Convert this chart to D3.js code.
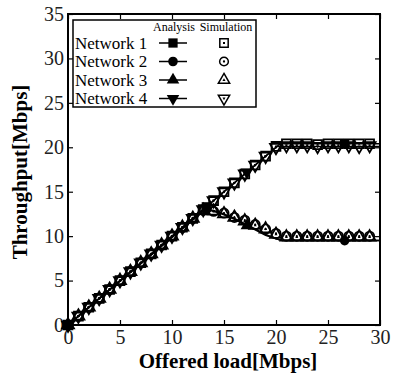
<!DOCTYPE html>
<html>
<head>
<meta charset="utf-8">
<script src="https://cdn.jsdelivr.net/npm/d3@7"></script>
<style>
  body { margin: 0; background: #fff; }
</style>
</head>
<body>
<div id="chart"></div>
<script>
// offered load values of the simulation points
let load = [0, 1, 2, 3, 4, 5, 6, 7, 8, 9, 10, 11, 12, 13, 14, 15, 16, 17, 18, 19, 20, 21, 22, 23, 24, 25, 26, 27, 28, 29];

// simulation throughput
let sim1 = [0, 1, 2, 3, 4, 5, 6, 7, 8, 9, 10, 11, 12, 13, 14, 15, 16, 17, 18, 19, 20.1, 20.4, 20.4, 20.4, 20.3, 20.4, 20.4, 20.4, 20.4, 20.4];
let sim2 = [0, 1, 2, 3, 4, 5, 6, 7, 8, 9, 10, 11, 12, 12.9, 12.8, 12.6, 12.1, 11.8, 11.3, 10.8, 10.3, 10.0, 10.0, 10.0, 10.0, 10.0, 10.0, 10.0, 10.0, 10.0];
let sim3 = [0, 1, 2, 3, 4, 5, 6, 7, 8, 9, 10, 11, 12, 12.9, 12.8, 12.5, 12.1, 11.7, 11.2, 10.8, 10.2, 9.9, 9.9, 9.9, 9.9, 9.9, 9.9, 9.9, 9.9, 9.9];
let sim4 = [0, 1, 2, 3, 4, 5, 6, 7, 8, 9, 10, 11, 12, 13, 14, 15, 16, 17, 18, 19, 20.0, 20.2, 20.2, 20.2, 20.1, 20.2, 20.2, 20.2, 20.1, 20.2];

// analysis curves (x, y)
let ana1 = [[0, 0], [20.4, 20.4], [30, 20.4]];
let ana2 = [[0, 0], [13.2, 13.0], [14, 12.9], [15, 12.5], [16, 12.0], [17, 11.4], [18, 10.8], [19, 10.2], [20, 9.7], [20.6, 9.5], [30, 9.5]];
let ana3 = [[0, 0], [13.2, 13.0], [14, 12.8], [15, 12.4], [16, 11.9], [17, 11.3], [18, 10.7], [19, 10.1], [20, 9.7], [20.6, 9.5], [30, 9.5]];
let ana4 = [[0, 0], [20.1, 20.1], [30, 20.1]];

// where the filled analysis markers sit
let anaMark1 = [0, 13.3, 26.6];
let anaMark2 = [0, 13.3, 26.6];
let anaMark3 = [0, 17.2];
let anaMark4 = [0, 17.2];

let names = ["Network 1", "Network 2", "Network 3", "Network 4"];
let xTicks = [0, 5, 10, 15, 20, 25, 30];
let yTicks = [0, 5, 10, 15, 20, 25, 30, 35];

let serif = "Liberation Serif";

let _default = {
    width: 393,
    height: 381,
    left: 68,
    right: 380,
    top: 14,
    bottom: 325,
    stroke: "black"
};

let svg = d3.select("div#chart")
    .append("svg")
    .attr("width", _default.width)
    .attr("height", _default.height)
    .attr("font-family", serif);

let x = d3.scaleLinear().domain([0, 30]).range([_default.left, _default.right]);
let y = d3.scaleLinear().domain([0, 35]).range([_default.bottom, _default.top]);

let symbols = [
    {type: d3.symbolSquare, size: 78, rot: 0},
    {type: d3.symbolCircle, size: 66, rot: 0},
    {type: d3.symbolTriangle, size: 62, rot: 0},
    {type: d3.symbolTriangle, size: 62, rot: 180}
];

let interp = (curve, xv) => {
    for (let i = 1; i < curve.length; i++) {
        if (xv <= curve[i][0]) {
            let a = curve[i - 1], b = curve[i];
            return a[1] + (b[1] - a[1]) * (xv - a[0]) / (b[0] - a[0]);
        }
    }
    return curve[curve.length - 1][1];
};

// axes with inward ticks on all four sides
let plot = svg.append("g");
plot.append("g")
    .attr("transform", `translate(0, ${_default.bottom})`)
    .call(d3.axisBottom(x).tickValues(xTicks).tickSizeInner(-5).tickSizeOuter(0).tickPadding(5));
plot.append("g")
    .attr("transform", `translate(0, ${_default.top})`)
    .call(d3.axisTop(x).tickValues(xTicks).tickSizeInner(-5).tickSizeOuter(0).tickFormat(""));
plot.append("g")
    .attr("transform", `translate(${_default.left}, 0)`)
    .call(d3.axisLeft(y).tickValues(yTicks).tickSizeInner(-5).tickSizeOuter(0).tickPadding(4));
plot.append("g")
    .attr("transform", `translate(${_default.right}, 0)`)
    .call(d3.axisRight(y).tickValues(yTicks).tickSizeInner(-5).tickSizeOuter(0).tickFormat(""));
plot.selectAll(".domain").remove();
plot.selectAll("g").attr("font-family", serif);
plot.selectAll(".tick line").attr("stroke-width", 1.2);
plot.selectAll(".tick text")
    .attr("font-family", serif)
    .attr("font-size", 20)
    .attr("fill", "#222");

svg.append("rect")
    .attr("x", _default.left)
    .attr("y", _default.top)
    .attr("width", _default.right - _default.left)
    .attr("height", _default.bottom - _default.top)
    .attr("fill", "none")
    .attr("stroke", _default.stroke)
    .attr("stroke-width", 2);

// analysis lines
let line = d3.line().x(d => x(d[0])).y(d => y(d[1]));
let anas = [ana1, ana2, ana3, ana4];
let anaMarks = [anaMark1, anaMark2, anaMark3, anaMark4];
anas.forEach((a, i) => {
    svg.append("path")
        .attr("d", line(a))
        .attr("fill", "none")
        .attr("stroke", _default.stroke)
        .attr("stroke-width", 1.5);
});

// simulation points
let sims = [sim1, sim2, sim3, sim4];
sims.forEach((s, i) => {
    let sym = symbols[i];
    let g = svg.append("g").selectAll("g").data(load).enter().append("g")
        .attr("transform", (d, j) => `translate(${x(d)}, ${y(s[j])}) rotate(${sym.rot})`);
    g.append("path")
        .attr("d", d3.symbol().type(sym.type).size(sym.size))
        .attr("fill", "none")
        .attr("stroke", _default.stroke)
        .attr("stroke-width", 1.8);
    g.append("path")
        .attr("d", d3.symbol().type(sym.type).size(4))
        .attr("fill", _default.stroke);
});

// filled analysis markers
anaMarks.forEach((m, i) => {
    let sym = symbols[i];
    svg.append("g").selectAll("path").data(m).enter().append("path")
        .attr("transform", d => `translate(${x(d)}, ${y(interp(anas[i], d))}) rotate(${sym.rot})`)
        .attr("d", d3.symbol().type(sym.type).size(sym.size * 1.1))
        .attr("fill", _default.stroke);
});

// legend
let lg = svg.append("g");
lg.append("rect")
    .attr("x", 73)
    .attr("y", 20)
    .attr("width", 183)
    .attr("height", 87)
    .attr("fill", "white")
    .attr("stroke", _default.stroke)
    .attr("stroke-width", 1.5);
lg.append("text").attr("x", 174).attr("y", 31).attr("text-anchor", "middle")
    .attr("font-family", serif).attr("font-size", 12).text("Analysis");
lg.append("text").attr("x", 226).attr("y", 31).attr("text-anchor", "middle")
    .attr("font-family", serif).attr("font-size", 12).text("Simulation");
let row = lg.selectAll("g.row").data(names).enter().append("g")
    .attr("class", "row")
    .attr("transform", (d, i) => `translate(0, ${43 + i * 18.5})`);
row.append("text")
    .attr("x", 75)
    .attr("y", 5.5)
    .attr("font-family", serif)
    .attr("font-size", 17)
    .text(d => d);
row.append("line")
    .attr("x1", 159).attr("x2", 187)
    .attr("stroke", _default.stroke)
    .attr("stroke-width", 1.5);
row.append("path")
    .attr("transform", (d, i) => `translate(173, 0) rotate(${symbols[i].rot})`)
    .attr("d", (d, i) => d3.symbol().type(symbols[i].type).size(symbols[i].size * 1.1)())
    .attr("fill", _default.stroke);
row.append("path")
    .attr("transform", (d, i) => `translate(224, 0) rotate(${symbols[i].rot})`)
    .attr("d", (d, i) => d3.symbol().type(symbols[i].type).size(symbols[i].size * 0.9)())
    .attr("fill", "none")
    .attr("stroke", _default.stroke)
    .attr("stroke-width", 1.5);
row.append("path")
    .attr("transform", (d, i) => `translate(224, 0) rotate(${symbols[i].rot})`)
    .attr("d", (d, i) => d3.symbol().type(symbols[i].type).size(4)())
    .attr("fill", _default.stroke);

// axis titles
svg.append("text")
    .attr("x", 228)
    .attr("y", 368)
    .attr("text-anchor", "middle")
    .attr("font-family", serif)
    .attr("font-size", 21)
    .attr("font-weight", "bold")
    .text("Offered load[Mbps]");
svg.append("text")
    .attr("transform", "translate(27, 172) rotate(-90)")
    .attr("text-anchor", "middle")
    .attr("font-family", serif)
    .attr("font-size", 21)
    .attr("font-weight", "bold")
    .text("Throughput[Mbps]");
</script>
</body>
</html>
